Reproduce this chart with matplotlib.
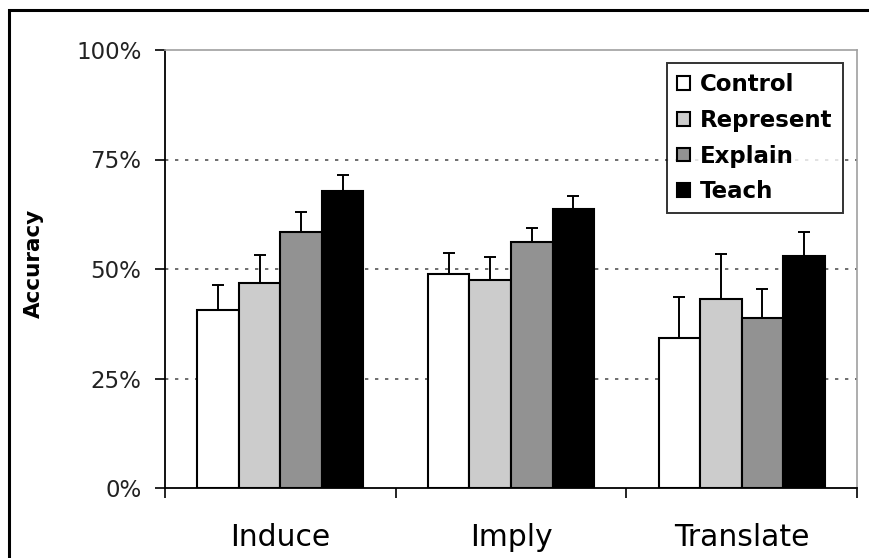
import matplotlib
matplotlib.use("Agg")
import matplotlib.pyplot as plt
import numpy as np
from matplotlib.patches import Rectangle

categories = ["Induce", "Imply", "Translate"]
series = ["Control", "Represent", "Explain", "Teach"]
means = {
    "Control":   [40.7, 48.8, 34.3],
    "Represent": [46.7, 47.6, 43.2],
    "Explain":   [58.5, 56.1, 38.7],
    "Teach":     [67.9, 63.8, 53.0],
}
err_tops = {
    "Control":   [46.3, 53.7, 43.5],
    "Represent": [53.2, 52.8, 53.4],
    "Explain":   [62.9, 59.3, 45.5],
    "Teach":     [71.5, 66.7, 58.4],
}
colors = ["#ffffff", "#cccccc", "#929292", "#000000"]
yticks = [0, 25, 50, 75, 100]
ytick_labels = ["0%", "25%", "50%", "75%", "100%"]

W, H = 870, 558
fig = plt.figure(figsize=(W / 100, H / 100), dpi=100)
ax = fig.add_axes([165 / W, (H - 488) / H, (857 - 165) / W, (488 - 50) / H])

# outer frame (top and left visible)
fig.patches.append(Rectangle((9.5 / W, -0.1), 1.2, (H - 10.5) / H + 0.1,
                             transform=fig.transFigure, fill=False,
                             edgecolor="black", linewidth=2.2, zorder=0))

x = np.arange(len(categories)) + 0.5
bw = 0.18
for i, s in enumerate(series):
    pos = x + (i - 1.5) * bw
    m = np.array(means[s])
    e = np.array(err_tops[s]) - m
    ax.bar(pos, m, width=bw, color=colors[i], edgecolor="black",
           linewidth=1.5, label=s, zorder=3)
    ax.errorbar(pos, m, yerr=[np.zeros_like(e), e], fmt="none",
                ecolor="black", elinewidth=1.4, capsize=4.5, capthick=1.4,
                zorder=4)

ax.set_xlim(0, 3)
ax.set_ylim(0, 100)
ax.set_yticks(yticks)
ax.set_yticklabels(ytick_labels, fontsize=16.5, color="#222222")
ax.set_xticks([0, 1, 2, 3])
ax.set_xticklabels([])
ax.set_xticks(x, minor=True)
ax.set_xticklabels(categories, minor=True, fontsize=21.5)
ax.tick_params(axis="x", which="minor", length=0, pad=25)
ax.tick_params(axis="x", which="major", direction="out", length=7, width=1.2)
ax.tick_params(axis="y", direction="out", length=7, width=1.2, pad=10)

for yv in [25, 50, 75]:
    ax.axhline(yv, color="#555555", linewidth=1.2, linestyle=(0, (2, 4)), zorder=1)

for side in ["top", "right"]:
    ax.spines[side].set_color("#a0a0a0")
    ax.spines[side].set_linewidth(1.2)
for side in ["left", "bottom"]:
    ax.spines[side].set_color("black")
    ax.spines[side].set_linewidth(1.3)

ax.set_ylabel("Accuracy", fontsize=15.5, fontweight="bold")
ax.yaxis.set_label_coords((44 - 165) / (857 - 165), (488 - 263) / (488 - 50))

leg = ax.legend(loc="upper right", bbox_to_anchor=((843 - 165) / (857 - 165), (488 - 63) / (488 - 50)),
                frameon=True, fancybox=False, edgecolor="black",
                prop={"family": "DejaVu Sans", "weight": "bold", "size": 16.5},
                handlelength=0.55, handleheight=0.55, handletextpad=0.45,
                labelspacing=0.55, borderpad=0.45, borderaxespad=0)
leg.get_frame().set_linewidth(1.4)
leg.set_zorder(10)

fig.savefig("out.png", dpi=100)
